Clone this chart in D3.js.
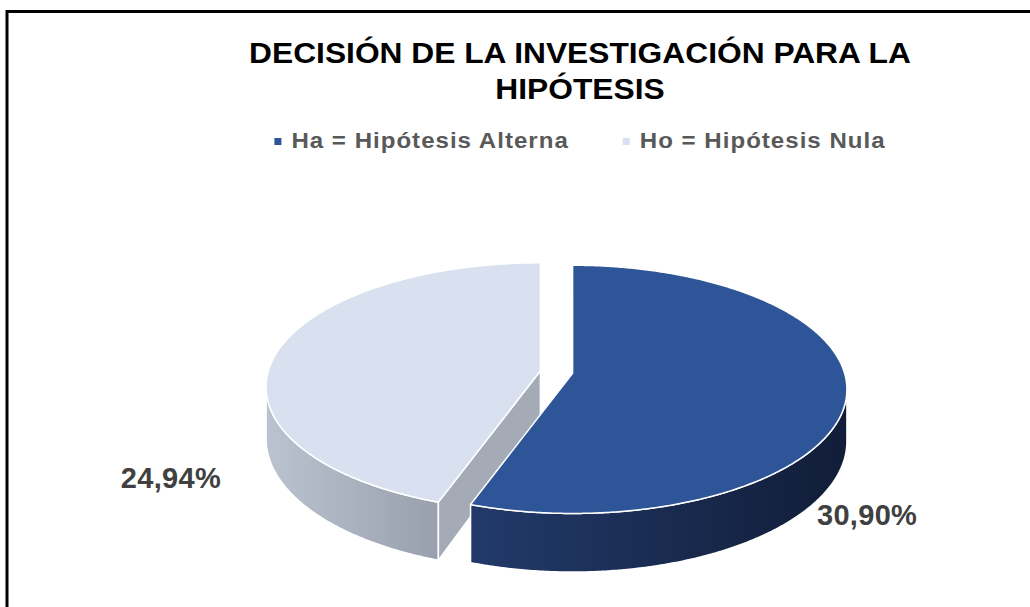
<!DOCTYPE html>
<html>
<head>
<meta charset="utf-8">
<script src="https://cdn.jsdelivr.net/npm/d3@7"></script>
<style>
  html, body { margin: 0; padding: 0; background: #fff; }
  svg { display: block; }
  text { font-family: "Liberation Sans", Arial, sans-serif; font-weight: bold; }
</style>
</head>
<body>
<div id="chart"></div>
<script>
// DATA
const titleLines = ["DECISIÓN DE LA INVESTIGACIÓN PARA LA", "HIPÓTESIS"];
const categories = ["Ha = Hipótesis Alterna", "Ho = Hipótesis Nula"];
const values = [30.90, 24.94];
const valueLabels = ["30,90%", "24,94%"];

// colours per slice: top, side gradient (left -> right), cut face
const topColors = ["#2e5597", "#d9e0ef"];
const sideColors = [["#223a6a", "#111d38"], ["#bcc3d0", "#99a0ad"]];
const cutColors = ["#1a2d55", "#a4abb6"];

// layout
const width = 1030, height = 607;
const cx = 556.5, cy = 372;      // pie centre (apex)
const rx = 272, ry = 122;        // ellipse radii
const depth = 51;                // thickness of the pie
const persp = 0.13;              // front grows, back shrinks
const explode = 0.06;            // fraction of radius
const labelPos = [
  { x: 817, y: 525, anchor: "start" },
  { x: 221, y: 488, anchor: "end" }
];
const titleStretch = 1.095, legendStretch = 1.12;

const svg = d3.select("#chart")
  .append("svg")
  .attr("width", width)
  .attr("height", height);

const defs = svg.append("defs");

// outer frame (only top and left are in view)
svg.append("rect")
  .attr("x", 7)
  .attr("y", 11.5)
  .attr("width", width + 40)
  .attr("height", height + 40)
  .attr("fill", "none")
  .attr("stroke", "#000")
  .attr("stroke-width", 3);

// title
svg.append("g")
  .selectAll("text")
  .data(titleLines)
  .join("text")
  .attr("transform", (d, i) => "translate(580," + (63 + i * 36) + ") scale(" + titleStretch + ",1)")
  .attr("text-anchor", "middle")
  .attr("font-size", 29)
  .attr("fill", "#000")
  .text(d => d);

////////// pie //////////
const pie = d3.pie().sort(null).value(d => d);
const arcs = pie(values).map((a, i) => {
  const mid = (a.startAngle + a.endAngle) / 2;
  a.i = i;
  a.mid = mid;
  a.ox = cx + explode * Math.sin(mid) * rx;
  a.oy = cy - explode * Math.cos(mid) * ry;
  return a;
});

function slicePoint(a, t, r, h) {
  const X = r * Math.sin(t), Y = r * Math.cos(t);
  const s = 1 / (1 + persp * Y);
  return [a.ox + X * rx * s, a.oy - Y * ry * s + h * s];
}

function rim(a, t0, t1, h) {
  const step = Math.PI / 360;
  const ts = d3.range(t0, t1, step);
  ts.push(t1);
  return ts.map(t => slicePoint(a, t, 1, h));
}

const line = d3.line();
const vis0 = Math.acos(-persp), vis1 = 2 * Math.PI - vis0;

// back slices first
const order = arcs.slice().sort((p, q) => Math.cos(q.mid) - Math.cos(p.mid));

arcs.forEach(a => {
  const g = defs.append("linearGradient")
    .attr("id", "side" + a.i)
    .attr("x1", 0).attr("x2", 1).attr("y1", 0).attr("y2", 0);
  g.append("stop").attr("offset", "0%").attr("stop-color", sideColors[a.i][0]);
  g.append("stop").attr("offset", "100%").attr("stop-color", sideColors[a.i][1]);
});

const plot = svg.append("g").attr("class", "pie");

order.forEach(a => {
  const g = plot.append("g");
  const apexTop = [a.ox, a.oy];
  const apexBot = [a.ox, a.oy + depth];

  // outer side
  const s0 = Math.max(a.startAngle, vis0), s1 = Math.min(a.endAngle, vis1);
  if (s1 > s0) {
    const pts = rim(a, s0, s1, 0).concat(rim(a, s0, s1, depth).reverse());
    g.append("path")
      .attr("d", line(pts) + "Z")
      .attr("fill", "url(#side" + a.i + ")")
      .attr("stroke", "#fff")
      .attr("stroke-width", 1.5)
      .attr("stroke-linejoin", "round");
  }

  // cut faces that turn toward the viewer
  [[a.startAngle, a.startAngle - Math.PI / 2], [a.endAngle, a.endAngle + Math.PI / 2]]
    .forEach(([t, n]) => {
      if (Math.cos(n) < -0.01) {
        const pts = [apexTop, slicePoint(a, t, 1, 0), slicePoint(a, t, 1, depth), apexBot];
        g.append("path")
          .attr("d", line(pts) + "Z")
          .attr("fill", cutColors[a.i])
          .attr("stroke", "#fff")
          .attr("stroke-width", 1.5)
          .attr("stroke-linejoin", "round");
      }
    });

  // top face
  const top = [apexTop].concat(rim(a, a.startAngle, a.endAngle, 0));
  g.append("path")
    .attr("d", line(top) + "Z")
    .attr("fill", topColors[a.i])
    .attr("stroke", "#fff")
    .attr("stroke-width", 1.5)
    .attr("stroke-linejoin", "round");
});

// data labels
svg.append("g")
  .selectAll("text")
  .data(valueLabels)
  .join("text")
  .attr("x", (d, i) => labelPos[i].x)
  .attr("y", (d, i) => labelPos[i].y)
  .attr("text-anchor", (d, i) => labelPos[i].anchor)
  .attr("font-size", 29)
  .attr("letter-spacing", 0.3)
  .attr("fill", "#404040")
  .text(d => d);

////////// legend //////////
const legend = svg.append("g").attr("class", "legend");
const items = legend.selectAll("g")
  .data(categories)
  .join("g");

items.append("rect")
  .attr("width", 7)
  .attr("height", 7)
  .attr("y", 138)
  .attr("fill", (d, i) => topColors[i]);

items.append("text")
  .attr("transform", "translate(17,147.5) scale(" + legendStretch + ",1)")
  .attr("font-size", 21.5)
  .attr("letter-spacing", 0.9)
  .attr("fill", "#595959")
  .text(d => d);

// place the items side by side, centred under the title
let widths = [];
items.each(function () {
  widths.push(17 + legendStretch * d3.select(this).select("text").node().getComputedTextLength());
});
const gap = 54;
const total = d3.sum(widths) + gap * (widths.length - 1);
let xPos = 580 - total / 2;
items.attr("transform", (d, i) => {
  const t = "translate(" + xPos + ",0)";
  xPos += widths[i] + gap;
  return t;
});
</script>
</body>
</html>
